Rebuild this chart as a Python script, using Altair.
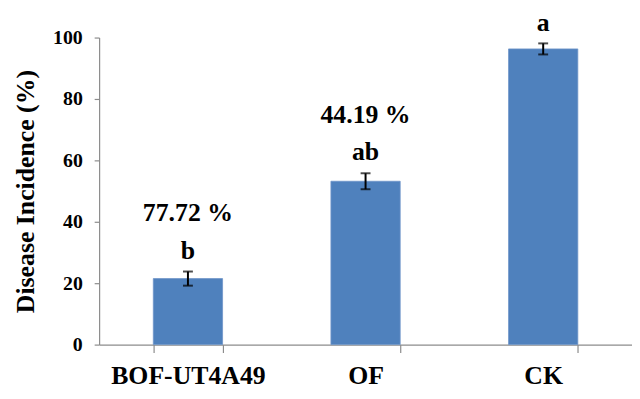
import altair as alt
import pandas as pd

categories = ["BOF-UT4A49", "OF", "CK"]
incidence = [21.5, 53.2, 96.3]
errors = [2.3, 2.6, 1.8]
letters = ["b", "ab", "a"]
reductions = ["77.72 %", "44.19 %", ""]

df = pd.DataFrame({
    "cat": categories,
    "val": incidence,
    "err": errors,
    "letter": letters,
    "pct": reductions,
})
df["lo"] = df["val"] - df["err"]
df["hi"] = df["val"] + df["err"]

FONT = "'Liberation Serif', 'Times New Roman', 'DejaVu Serif', serif"
YTITLE = "Disease Incidence (%)"

xs = alt.Scale(paddingInner=0.61, paddingOuter=0.305)
yscale = alt.Scale(domain=[0, 100], nice=False)
yaxis = alt.Axis(values=[0, 20, 40, 60, 80, 100], grid=False)
x = alt.X("cat:N", sort=categories, title=None, scale=xs)


def yenc(field):
    return alt.Y(field, scale=yscale, title=YTITLE, axis=yaxis)


base = alt.Chart(df)

bars = base.mark_bar(color="#4F81BD", stroke="#6f95c8", strokeWidth=0.8).encode(
    x=x, y=yenc("val:Q"))
rules = base.mark_rule(color="black", strokeWidth=2).encode(
    x=x, y=yenc("lo:Q"), y2="hi:Q")
cap_lo = base.mark_tick(color="black", size=10, thickness=2).encode(
    x=x, y=yenc("lo:Q"))
cap_hi = base.mark_tick(color="black", size=10, thickness=2).encode(
    x=x, y=yenc("hi:Q"))
letter_text = base.mark_text(font=FONT, fontSize=26, fontWeight="bold",
                             color="black", dy=-21, baseline="middle").encode(
    x=x, y=yenc("hi:Q"), text="letter:N")
pct_text = base.mark_text(font=FONT, fontSize=26, fontWeight="bold",
                          color="black", dy=-59, baseline="middle").encode(
    x=x, y=yenc("hi:Q"), text="pct:N")

chart = alt.layer(bars, rules, cap_lo, cap_hi, letter_text, pct_text).properties(
    width=538, height=310,
    autosize=alt.AutoSizeParams(type="none"),
    padding={"left": 92, "top": 28, "right": 0, "bottom": 45},
    background="white",
).configure_view(stroke=None).configure_axis(
    labelFont=FONT, labelFontWeight="bold", labelColor="black",
    titleFont=FONT, titleFontWeight="bold", titleColor="black",
    tickColor="#8c8c8c", domainColor="#8c8c8c", domainWidth=1.2, tickWidth=1.2,
).configure_axisX(
    labelAngle=0, labelFontSize=26, labelPadding=10, tickBand="extent", tickSize=8,
).configure_axisY(
    labelFontSize=20, labelPadding=12, tickSize=5, titleFontSize=26, titlePadding=14,
)

chart.save("out.html", embed_options={"renderer": "svg", "actions": False})
